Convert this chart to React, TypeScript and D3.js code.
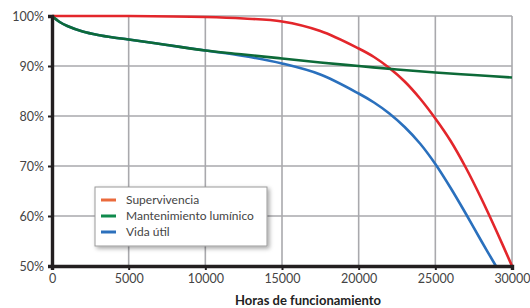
import React, { useEffect, useRef } from 'react';
import * as d3 from 'd3';

// Hours of operation (x) and the three curves, percent values
const greenHours = [0, 500, 1000, 2000, 3000, 4000, 5000, 7500, 10000, 12500, 15000, 17500, 20000, 22500, 25000, 27500, 30000];
const greenValues = [100, 98.8, 98.0, 96.9, 96.2, 95.7, 95.3, 94.2, 93.1, 92.3, 91.5, 90.7, 90.0, 89.3, 88.7, 88.2, 87.7];

const redHours = [0, 5000, 10000, 12500, 15000, 17500, 20000, 21000, 22000, 23000, 24000, 25000, 26000, 27000, 28000, 29000, 30000];
const redValues = [100, 100, 99.8, 99.5, 98.9, 97.0, 93.5, 91.8, 89.6, 86.9, 83.5, 79.5, 75.0, 69.6, 63.5, 56.9, 50];

const blueHours = [0, 500, 1000, 2000, 3000, 4000, 5000, 7500, 10000, 12500, 15000, 17500, 20000, 21000, 22000, 23000, 24000, 25000, 26000, 27000, 28000, 28950];
const blueValues = [100, 98.8, 98.0, 96.9, 96.2, 95.7, 95.3, 94.2, 93.1, 92.0, 90.5, 88.3, 84.5, 82.7, 80.5, 77.8, 74.5, 70.4, 65.6, 60.4, 55.0, 50];

const xTicks = [0, 5000, 10000, 15000, 20000, 25000, 30000];
const yTicks = [50, 60, 70, 80, 90, 100];

const legendLabels = ['Supervivencia', 'Mantenimiento lumínico', 'Vida útil'];
const legendColors = ['#ea6a3c', '#0f8a4c', '#2c70bc'];

const App = () => {
  const svgRef = useRef(null);

  useEffect(() => {
    const svg = d3.select(svgRef.current);
    const width = 530;
    const height = 308;
    const margin = { top: 16, right: 18, bottom: 42, left: 52 };
    const innerWidth = width - margin.left - margin.right;
    const innerHeight = height - margin.top - margin.bottom;
    const font = 'Lato, "Noto Sans", sans-serif';

    const x = d3.scaleLinear().domain([0, 30000]).range([0, innerWidth]);
    const y = d3.scaleLinear().domain([50, 100]).range([innerHeight, 0]);

    const defs = svg.append('defs');
    const filter = defs.append('filter').attr('id', 'shadow').attr('x', '-10%').attr('y', '-10%').attr('width', '130%').attr('height', '140%');
    filter.append('feDropShadow').attr('dx', 2).attr('dy', 2).attr('stdDeviation', 2).attr('flood-color', '#000').attr('flood-opacity', 0.35);

    const g = svg.append('g').attr('transform', `translate(${margin.left},${margin.top})`);

    // grid
    g.selectAll('.vgrid')
      .data(xTicks.slice(1))
      .enter()
      .append('line')
      .attr('x1', (d) => x(d))
      .attr('x2', (d) => x(d))
      .attr('y1', 0)
      .attr('y2', innerHeight)
      .attr('stroke', '#a9a9ad')
      .attr('stroke-width', 1.6);

    g.selectAll('.hgrid')
      .data(yTicks.slice(1))
      .enter()
      .append('line')
      .attr('x1', 0)
      .attr('x2', innerWidth)
      .attr('y1', (d) => y(d))
      .attr('y2', (d) => y(d))
      .attr('stroke', '#a9a9ad')
      .attr('stroke-width', 1.6);

    // curves
    const line = d3
      .line()
      .x((d) => x(d[0]))
      .y((d) => y(d[1]))
      .curve(d3.curveCatmullRom.alpha(0.5));

    const series = [
      { hours: blueHours, values: blueValues, color: '#2a70bd' },
      { hours: redHours, values: redValues, color: '#e3262b' },
      { hours: greenHours, values: greenValues, color: '#0d6a38' },
    ];

    series.forEach((s) => {
      g.append('path')
        .datum(s.hours.map((h, i) => [h, s.values[i]]))
        .attr('d', line)
        .attr('fill', 'none')
        .attr('stroke', s.color)
        .attr('stroke-width', 2.6);
    });

    // axes
    const xAxis = g
      .append('g')
      .attr('transform', `translate(0,${innerHeight})`)
      .call(d3.axisBottom(x).tickValues(xTicks).tickSize(4).tickPadding(4).tickFormat(d3.format('d')));
    xAxis.select('.domain').attr('stroke', '#231f20').attr('stroke-width', 3.4);
    xAxis.selectAll('.tick line').attr('stroke', '#231f20').attr('stroke-width', 2);
    xAxis.selectAll('.tick text').attr('fill', '#444').attr('font-size', 12.5).attr('font-family', font);

    const yAxis = g
      .append('g')
      .call(d3.axisLeft(y).tickValues(yTicks).tickSize(4).tickPadding(4).tickFormat((d) => `${d}%`));
    yAxis.select('.domain').attr('stroke', '#231f20').attr('stroke-width', 3.4);
    yAxis.selectAll('.tick line').attr('stroke', '#231f20').attr('stroke-width', 2);
    yAxis.selectAll('.tick text').attr('fill', '#444').attr('font-size', 12.5).attr('font-family', font);

    g.append('text')
      .attr('x', 256)
      .attr('y', innerHeight + 39)
      .attr('text-anchor', 'middle')
      .attr('font-family', font)
      .attr('font-weight', 'bold')
      .attr('font-size', 13)
      .attr('fill', '#222')
      .text('Horas de funcionamiento');

    // legend
    const legend = svg.append('g').attr('transform', 'translate(95,187)');
    legend
      .append('rect')
      .attr('width', 172)
      .attr('height', 59)
      .attr('fill', '#fff')
      .attr('stroke', '#9a9a9a')
      .attr('stroke-width', 1)
      .attr('filter', 'url(#shadow)');

    legendLabels.forEach((label, i) => {
      const row = legend.append('g').attr('transform', `translate(0,${13 + i * 16})`);
      row.append('line').attr('x1', 6).attr('x2', 21).attr('y1', 0).attr('y2', 0).attr('stroke', legendColors[i]).attr('stroke-width', 3);
      row
        .append('text')
        .attr('x', 31)
        .attr('y', 4)
        .attr('font-family', font)
        .attr('font-size', 12)
        .attr('fill', '#444')
        .text(label);
    });

    return () => {
      svg.selectAll('*').remove();
    };
  }, []);

  return <svg ref={svgRef} width={530} height={308} style={{ position: 'absolute', left: 0, top: 0, background: '#fff' }}></svg>;
};

export default App;
